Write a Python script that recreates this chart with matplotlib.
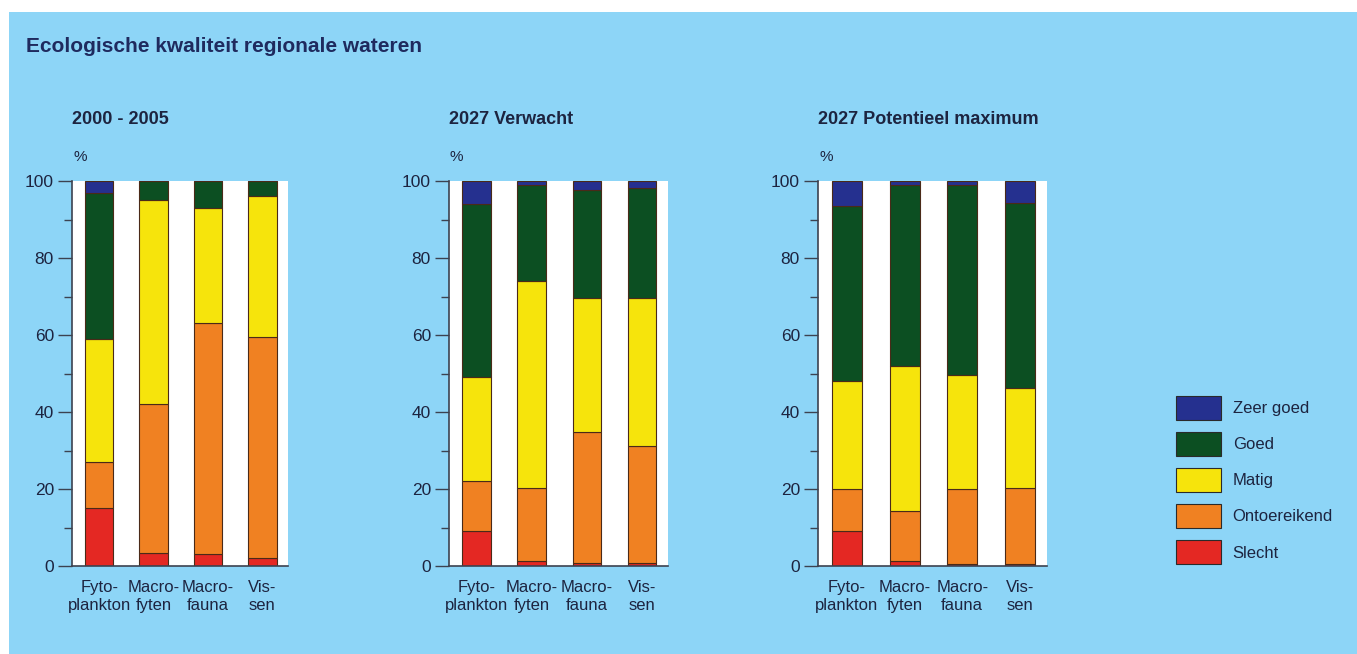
import numpy as np
import matplotlib
matplotlib.use("Agg")
import matplotlib.pyplot as plt
from matplotlib.patches import Patch, Rectangle

plt.rcParams['font.family'] = ['Liberation Sans Narrow', 'Liberation Sans', 'DejaVu Sans']

# data (percentages, bottom -> top)
groups = ['Fyto-\nplankton', 'Macro-\nfyten', 'Macro-\nfauna', 'Vis-\nsen']
classes = ['Slecht', 'Ontoereikend', 'Matig', 'Goed', 'Zeer goed']
panel_titles = ['2000 - 2005', '2027 Verwacht', '2027 Potentieel maximum']

p1_slecht = [15, 3.5, 3, 2]
p1_ontoereikend = [12, 38.5, 60, 57.5]
p1_matig = [32, 53, 30, 36.5]
p1_goed = [38, 5, 7, 4]
p1_zeergoed = [3, 0, 0, 0]

p2_slecht = [9, 1.3, 0.7, 0.7]
p2_ontoereikend = [13, 19, 34, 30.5]
p2_matig = [27, 53.7, 35, 38.5]
p2_goed = [45, 25, 28, 28.6]
p2_zeergoed = [6, 1, 2.3, 1.7]

p3_slecht = [9, 1.3, 0.4, 0.6]
p3_ontoereikend = [11, 13, 19.7, 19.7]
p3_matig = [28, 37.7, 29.4, 26]
p3_goed = [45.5, 47, 49.5, 48]
p3_zeergoed = [6.5, 1, 1, 5.7]

panels = [
    [p1_slecht, p1_ontoereikend, p1_matig, p1_goed, p1_zeergoed],
    [p2_slecht, p2_ontoereikend, p2_matig, p2_goed, p2_zeergoed],
    [p3_slecht, p3_ontoereikend, p3_matig, p3_goed, p3_zeergoed],
]

colors = ['#e42823', '#f08122', '#f6e40c', '#0c4f22', '#25308f']
bg = '#8dd5f7'
txt = '#1d2440'
axcol = '#3c4250'

W, H = 1357, 654
fig = plt.figure(figsize=(W / 100, H / 100), dpi=100, facecolor='white')
fig.patches.append(Rectangle((9 / W, 0), 1, 1 - 12 / H, transform=fig.transFigure,
                             facecolor=bg, edgecolor='none', zorder=-10))

fig.text(26 / W, 1 - 47 / H, 'Ecologische kwaliteit regionale wateren', fontsize=15,
         fontweight='bold', color='#1f2a5e', va='center', ha='left')

lefts = [72, 449, 818]
rights = [288, 668, 1047]
top, bottom = 181, 566

x = np.arange(len(groups))
for k in range(3):
    ax = fig.add_axes([lefts[k] / W, 1 - bottom / H, (rights[k] - lefts[k]) / W, (bottom - top) / H])
    ax.set_facecolor('white')
    base = np.zeros(len(groups))
    for vals, c in zip(panels[k], colors):
        vals = np.array(vals)
        ax.bar(x, vals, 0.52, bottom=base, color=c, edgecolor='#4a2a18', linewidth=0.8)
        base += vals
    ax.set_xlim(-0.5, 3.47)
    ax.set_ylim(0, 100)
    ax.set_yticks(np.arange(0, 101, 20))
    ax.set_yticks(np.arange(10, 100, 20), minor=True)
    ax.set_xticks(x)
    ax.set_xticklabels(groups, fontsize=12, color=txt, linespacing=1.25)
    ax.tick_params(axis='x', length=0, pad=10)
    ax.tick_params(axis='y', which='major', length=10, width=1, color=axcol, labelsize=12.5,
                   labelcolor=txt, pad=3)
    ax.tick_params(axis='y', which='minor', length=6, width=1, color=axcol)
    for s in ['top', 'right']:
        ax.spines[s].set_visible(False)
    for s in ['left', 'bottom']:
        ax.spines[s].set_color(axcol)
        ax.spines[s].set_linewidth(1.2)
    fig.text(lefts[k] / W, 1 - 120 / H, panel_titles[k], fontsize=13, fontweight='bold',
             color=txt, va='center', ha='left')
    fig.text((lefts[k] + 1) / W, 1 - 157 / H, '%', fontsize=11, color=txt, va='center', ha='left')

handles = [Patch(facecolor=c, edgecolor='#2a2a2a', linewidth=0.8) for c in colors][::-1]
fig.legend(handles, classes[::-1], loc='upper left', bbox_to_anchor=(1176 / W, 1 - 396 / H),
           frameon=False, fontsize=12, handlelength=2.7, handleheight=1.8, labelspacing=0.75,
           handletextpad=0.7, borderpad=0, borderaxespad=0, labelcolor=txt)

fig.savefig('out.png', dpi=100, facecolor=fig.get_facecolor())
